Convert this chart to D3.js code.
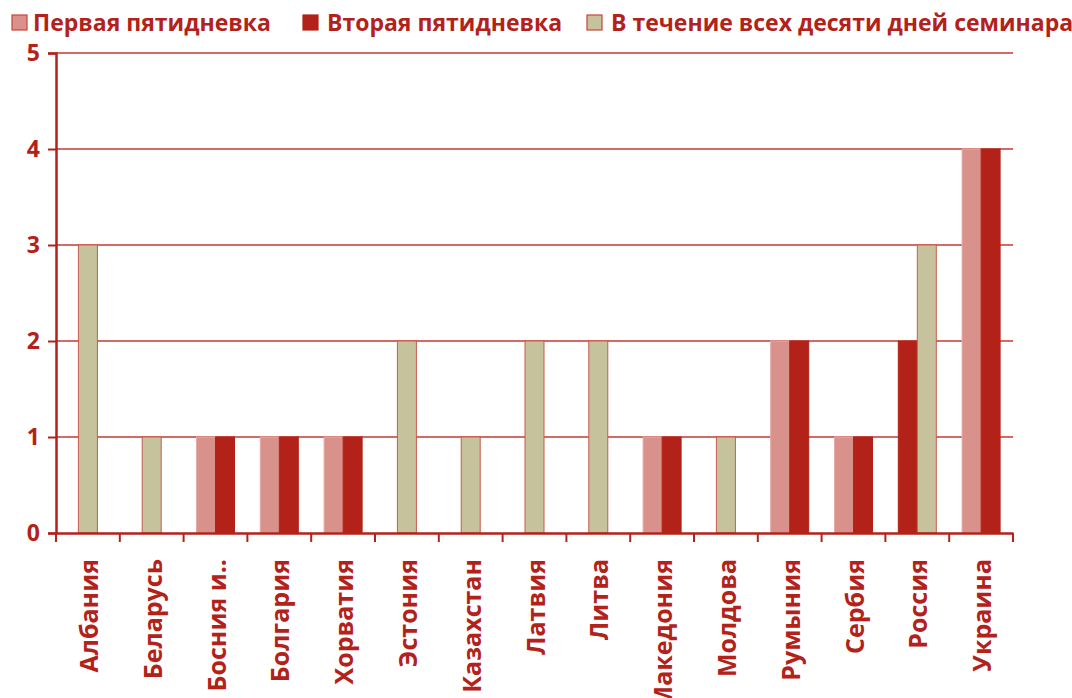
<!DOCTYPE html>
<html>
<head>
<meta charset="utf-8">
<script src="https://cdn.jsdelivr.net/npm/d3@7"></script>
<style>
  body { margin: 0; background: #fff; }
  text { font-family: "Open Sans", sans-serif; font-weight: 700; fill: #b3221a; }
</style>
</head>
<body>
<svg id="chart" width="1072" height="698"></svg>
<script>
var countries = ["Албания", "Беларусь", "Босния и..", "Болгария", "Хорватия", "Эстония", "Казахстан",
    "Латвия", "Литва", "Македония", "Молдова", "Румыния", "Сербия", "Россия", "Украина"]
var seriesNames = ["Первая пятидневка", "Вторая пятидневка", "В течение всех десяти дней семинара"]
var first = [0, 0, 1, 1, 1, 0, 0, 0, 0, 1, 0, 2, 1, 0, 4]
var second = [0, 0, 1, 1, 1, 0, 0, 0, 0, 1, 0, 2, 1, 2, 4]
var whole = [3, 1, 0, 0, 0, 2, 1, 2, 2, 0, 1, 0, 0, 3, 0]
var yTicks = [0, 1, 2, 3, 4, 5]

var fills = ["#d9918b", "#b22218", "#c6c29b"]
var strokes = ["#e3a9a4", "#b22218", "#c85a50"]
var red = "#b3221a"

var svg = d3.select("#chart")
var margin = {left: 56, right: 59, top: 53, bottom: 165}
var width = 1072 - margin.left - margin.right
var height = 698 - margin.top - margin.bottom

var g = svg.append("g").attr("transform", "translate(" + margin.left + "," + margin.top + ")")

var x = d3.scaleBand().domain(countries).range([0, width])
var y = d3.scaleLinear().domain([0, 5]).range([height, 0])
var barW = 19

// grid
g.selectAll(".grid").data(yTicks.slice(1)).enter().append("line")
    .attr("x1", 0).attr("x2", width)
    .attr("y1", d => y(d)).attr("y2", d => y(d))
    .attr("stroke", "#c23a30").attr("stroke-width", 1.3)

// bars: only non-zero series are drawn, centred in the band
var rows = countries.map((c, i) => {
    var vals = [first[i], second[i], whole[i]]
    var present = vals.map((v, s) => ({s: s, v: v, c: c})).filter(d => d.v > 0)
    present.forEach((d, k) => { d.k = k; d.n = present.length })
    return present
})
var bars = [].concat.apply([], rows)

g.selectAll("rect.bar").data(bars).enter().append("rect")
    .attr("class", "bar")
    .attr("x", d => x(d.c) + x.bandwidth() / 2 - d.n * barW / 2 + d.k * barW)
    .attr("y", d => y(d.v))
    .attr("width", barW)
    .attr("height", d => y(0) - y(d.v))
    .attr("fill", d => fills[d.s])
    .attr("stroke", d => strokes[d.s])
    .attr("stroke-width", 1)

// y axis
var yAxis = g.append("g").call(d3.axisLeft(y).tickValues(yTicks).tickSize(8).tickPadding(8).tickFormat(d3.format("d")))
yAxis.select(".domain").attr("stroke", red).attr("stroke-width", 2.5)
yAxis.selectAll(".tick line").attr("stroke", red).attr("stroke-width", 2)
yAxis.selectAll(".tick text").style("font-size", "23px").attr("fill", red)

// x axis
var xAxis = g.append("g").attr("transform", "translate(0," + height + ")")
    .call(d3.axisBottom(x).tickSize(0).tickFormat(""))
xAxis.select(".domain").attr("stroke", red).attr("stroke-width", 2.5)
var bounds = d3.range(countries.length + 1).map(i => i * x.step())
xAxis.selectAll(".sep").data(bounds).enter().append("line")
    .attr("x1", d => d).attr("x2", d => d).attr("y1", 0).attr("y2", 9)
    .attr("stroke", red).attr("stroke-width", 2)
xAxis.selectAll(".lbl").data(countries).enter().append("text")
    .attr("transform", d => "translate(" + (x(d) + x.bandwidth() / 2 + 1) + ",26) rotate(-90)")
    .attr("text-anchor", "end").attr("dy", "0.36em")
    .style("font-size", "25px")
    .text(d => d)

// legend
var legX = [12, 303, 587]
var leg = svg.selectAll(".leg").data(seriesNames).enter().append("g")
    .attr("transform", (d, i) => "translate(" + legX[i] + ",15)")
leg.append("rect").attr("width", 15).attr("height", 15)
    .attr("fill", (d, i) => fills[i]).attr("stroke", (d, i) => i == 1 ? fills[1] : "#c9433a").attr("stroke-width", 1.2)
leg.append("text").attr("x", (d, i) => i == 0 ? 21 : 24).attr("y", 8).attr("dy", "0.36em")
    .style("font-size", "23px").text(d => d)
</script>
</body>
</html>
